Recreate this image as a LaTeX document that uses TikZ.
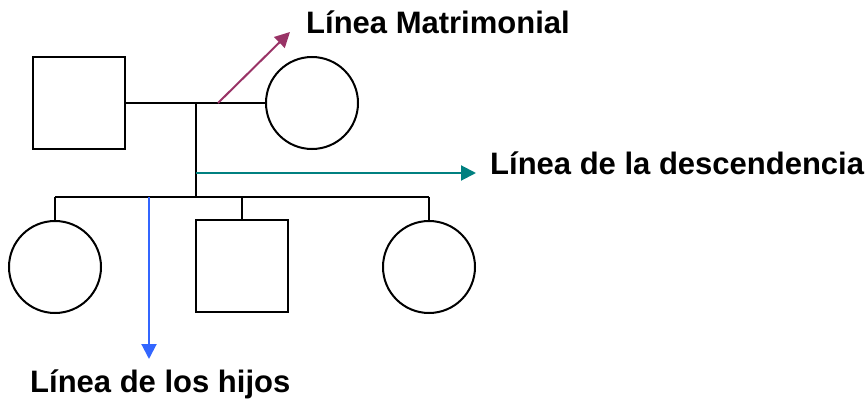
\documentclass[tikz,border=0pt]{standalone}
\usepackage{fontspec}
\setmainfont{Liberation Sans}
\usetikzlibrary{arrows.meta}
\usetikzlibrary{positioning}

\definecolor{matcol}{RGB}{153,51,102}
\definecolor{descol}{RGB}{0,128,128}
\definecolor{hijcol}{RGB}{51,102,255}

\tikzset{
  male/.style={draw,line width=2pt,minimum size=92pt,inner sep=0pt},
  female/.style={draw,circle,line width=2pt,minimum size=92pt,inner sep=0pt},
  tag/.style={anchor=base west,inner sep=0pt,font=\fontsize{31}{34}\selectfont\bfseries},
  pointer/.style={line width=2pt,-{Triangle[length=15pt,width=15pt]}}
}

\begin{document}
\begin{tikzpicture}[x=1pt,y=-1pt]
    \useasboundingbox (0,0) rectangle (868,401);
    % parents
    \node[male] (father) at (79,103) {};
    \node[female] (mother) at (312,103) {};
    % children
    \node[female] (kid1) at (55,267) {};
    \node[male] (kid2) at (242,266) {};
    \node[female] (kid3) at (429,267) {};
    \coordinate (mid) at (196,103);
    \coordinate (sib) at (196,197);
    \draw[line width=2pt] (father.east) -- (mother.west);
    \draw[line width=2pt] (mid) -- (sib);
    \draw[line width=2pt] (kid1.north |- sib) -- (kid3.north |- sib);
    \foreach\k in {1,2,3} {
      \draw[line width=2pt] (kid\k.north |- sib) -- (kid\k.north);
    }
    % labels and their arrows
    \node[tag] (lmat) at (306,34) {Línea Matrimonial};
    \node[tag] (ldes) at (490,175) {Línea de la descendencia};
    \node[tag] (lhij) at (30,392) {Línea de los hijos};
    \coordinate (m1) at (218,103);
    \coordinate (m2) at (290,32);
    \coordinate (d1) at (196,173);
    \coordinate (d2) at (476,173);
    \coordinate (h1) at (149,197);
    \coordinate (h2) at (149,359);
    \draw[pointer,matcol] (m1) -- (m2);
    \draw[pointer,descol] (d1) -- (d2);
    \draw[pointer,hijcol] (h1) -- (h2);
  \end{tikzpicture}
\end{document}
